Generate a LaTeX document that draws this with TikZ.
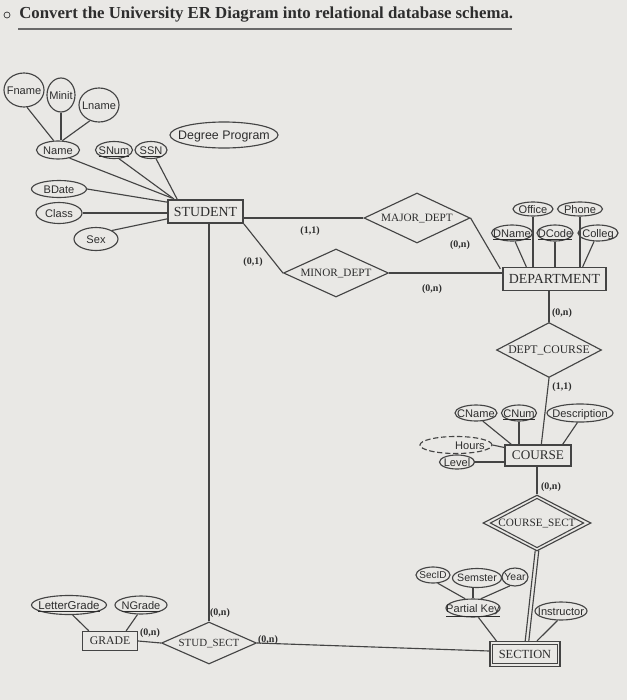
\documentclass[tikz,border=0pt]{standalone}
\usepackage{fontspec}
\setmainfont{Liberation Serif}
\newfontfamily\attrfont{Liberation Sans}
\usetikzlibrary{shapes.geometric,calc}
\definecolor{lc}{RGB}{68,68,68}
\definecolor{tc}{RGB}{45,45,45}
\definecolor{bgc}{RGB}{233,232,229}
\newcommand\mytxt[1]{\smash{\raisebox{-0.7ex}{\makebox[0pt]{#1}}}}
\tikzset{
  sz/.style n args={2}{minimum width=#1*0.75pt, minimum height=#2*0.75pt},
  attr/.style={ellipse, draw=lc, line width=0.85pt, inner sep=0pt, text=tc,
    font=\attrfont\fontsize{8.3}{10}\selectfont},
  ent/.style={rectangle, draw=lc, line width=1pt, inner sep=0pt, text=tc},
  rel/.style={diamond, draw=lc, line width=0.85pt, inner sep=0pt, text=tc,
    font=\fontsize{8.4}{10}\selectfont},
  card/.style={inner sep=0pt, text=tc, font=\fontsize{7.5}{8}\selectfont\bfseries},
  conn/.style={draw=lc, line width=0.85pt},
  inner/.style={draw=lc, line width=0.8pt}
}
\begin{document}
\begin{tikzpicture}[x=0.75pt,y=-0.75pt]
\fill[bgc] (0,0) rectangle (627,700);
\useasboundingbox (0,0) rectangle (627,700);
% title
\node[circle, draw=tc, line width=0.5pt, minimum size=4.5pt, inner sep=0pt] (bul) at (7,15) {};
\node[anchor=west, inner sep=0pt, text=tc, font=\fontsize{12.6}{14}\selectfont\bfseries] (title) at (19,15) {Convert the University ER Diagram into relational database schema.};
\coordinate (ul1) at (18,29);
\coordinate (ul2) at (512,29);
\draw[draw=lc!80, line width=0.8pt] (ul1) -- (ul2);

% STUDENT and attributes
\node[ent, sz={75}{23}, line width=1.3pt, font=\fontsize{10.4}{12}\selectfont] (stu) at (205.5,211.5) {STUDENT};
\node[attr, sz={40}{34}] (fname) at (24,90) {\mytxt{Fname}};
\node[attr, sz={28}{34}] (minit) at (61,95) {\mytxt{Minit}};
\node[attr, sz={40}{34}] (lname) at (99,105) {\mytxt{Lname}};
\node[attr, sz={43}{18}] (name) at (58,150) {\mytxt{Name}};
\node[attr, sz={37}{17}] (snum) at (114,150) {\mytxt{\underline{SNum}}};
\node[attr, sz={32}{17}] (ssn) at (151,150) {\mytxt{\underline{SSN}}};
\node[attr, sz={108}{26}, font=\attrfont\fontsize{9.3}{11}\selectfont] (deg) at (224,135) {\mytxt{Degree Program}};
\node[attr, sz={55}{17}] (bdate) at (59,189) {\mytxt{BDate}};
\node[attr, sz={46}{21}] (class) at (59,213) {\mytxt{Class}};
\node[attr, sz={44}{23}] (sex) at (96,239) {\mytxt{Sex}};

\draw[conn] (fname.-80) -- (name.115);
\draw[conn] (minit.south) -- (minit.south |- name.north);
\draw[conn] (lname.-120) -- (name.65);
\draw[conn] (name.-35) -- ($(stu.north west)+(5,-1)$);
\draw[conn] (snum.-60) -- ($(stu.north west)+(7,0)$);
\draw[conn] (ssn.-60) -- ($(stu.north west)+(10,0)$);
\draw[conn] ($(stu.north)+(7.5,0)$) -- ($(stu.north)+(7.5,0)$ |- deg.south);
\draw[conn] (bdate.east) -- ($(stu.north west)+(0,3)$);
\draw[conn] (class.east) -- (class.east -| stu.west);
\draw[conn] (sex.north east) -- ($(stu.south west)+(0,-5)$);

% relationships with DEPARTMENT
\node[rel, sz={106}{50}] (major) at (417,218) {\mytxt{MAJOR\_DEPT}};
\node[rel, sz={105}{48}] (minor) at (336,273) {\mytxt{MINOR\_DEPT}};
\node[ent, sz={103}{23}, font=\fontsize{10.4}{12}\selectfont] (dept) at (554.5,279) {DEPARTMENT};
\draw[conn] (major.west) -- (major.west -| stu.east);
\draw[conn] (stu.south east) -- (minor.west);
\draw[conn] (minor.east) -- (minor.east -| dept.west);
\draw[conn] (major.east) -- ($(dept.north west)+(-2,2)$);
\node[card] (c1) at (310,231) {(1,1)};
\node[card] (c2) at (253,262) {(0,1)};
\node[card] (c3) at (460,245) {(0,n)};
\node[card] (c4) at (432,289) {(0,n)};

% DEPARTMENT attributes
\node[attr, sz={40}{14}] (office) at (533,209) {\mytxt{Office}};
\node[attr, sz={45}{14}] (phone) at (580,209) {\mytxt{Phone}};
\node[attr, sz={41}{16}] (dname) at (512,233) {\mytxt{\underline{DName}}};
\node[attr, sz={36}{16}] (dcode) at (555,233) {\mytxt{\underline{DCode}}};
\node[attr, sz={40}{16}] (colleg) at (598,233) {\mytxt{Colleg}};
\draw[conn] (office.south) -- (office.south |- dept.north);
\draw[conn] (phone.south) -- (phone.south |- dept.north);
\draw[conn] (dname.-70) -- ($(dept.north west)+(24,0)$);
\draw[conn] (dcode.south) -- (dcode.south |- dept.north);
\draw[conn] (colleg.-115) -- ($(dept.north east)+(-24,0)$);

% DEPT_COURSE and COURSE
\node[rel, sz={105}{55}, font=\fontsize{8.8}{10}\selectfont] (dc) at (549,350) {\mytxt{DEPT\_COURSE}};
\node[ent, sz={66}{21}, font=\fontsize{9.9}{11}\selectfont] (course) at (538,455.5) {COURSE};
\draw[conn] (dc.north) -- (dc.north |- dept.south);
\draw[conn] (dc.south) -- ($(course.north west)+(37,0)$);
\node[card] (c5) at (562,313) {(0,n)};
\node[card] (c6) at (562,387) {(1,1)};

\node[attr, sz={42}{16}] (cname) at (476,413) {\mytxt{CName}};
\node[attr, sz={35}{16}] (cnum) at (519,413) {\mytxt{\underline{CNum}}};
\node[attr, sz={66}{18}] (desc) at (580,413) {\mytxt{Description}};
\node[attr, sz={72}{17}, dashed, dash pattern=on 4pt off 2pt] (hours) at (456,445) {\mytxt{\kern 21pt Hours}};
\node[attr, sz={35}{14}] (level) at (457,462) {\mytxt{Level}};
\draw[conn] (cname.-50) -- ($(course.north west)+(7,0)$);
\draw[conn] (cnum.south) -- (cnum.south |- course.north);
\draw[conn] (desc.-105) -- ($(course.north east)+(-9,0)$);
\draw[conn] (hours.east) -- ($(course.west)+(0,-8)$);
\draw[conn] (level.east) -- (level.east -| course.west);

% COURSE_SECT (weak relationship) and SECTION (weak entity)
\node[rel, sz={108}{56}] (cs) at (537,523) {\mytxt{COURSE\_SECT}};
\draw[inner] ($(cs.north)+(0,4)$) -- ($(cs.east)+(-8,0)$) -- ($(cs.south)+(0,-4)$) -- ($(cs.west)+(8,0)$) -- cycle;
\node[ent, sz={70}{25}, line width=0.9pt, font=\fontsize{9.3}{11}\selectfont] (section) at (525,654) {SECTION};
\draw[inner] ($(section.north west)+(3.5,3.5)$) rectangle ($(section.south east)+(-3.5,-3.5)$);
\draw[conn] (cs.north) -- (cs.north |- course.south);
\draw[conn] ($(cs.south)+(-1.8,-1)$) -- ($(section.north)+(0.2,0)$);
\draw[conn] ($(cs.south)+(1.8,-1)$) -- ($(section.north)+(3.8,0)$);
\node[card] (c7) at (551,487) {(0,n)};

\node[attr, sz={34}{16}, font=\attrfont\fontsize{7.5}{9}\selectfont] (secid) at (433,575) {\mytxt{SecID}};
\node[attr, sz={49}{19}, font=\attrfont\fontsize{8}{9}\selectfont] (sem) at (477,578) {\mytxt{Semster}};
\node[attr, sz={26}{18}, font=\attrfont\fontsize{7.8}{9}\selectfont] (year) at (515,577) {\mytxt{Year}};
\node[attr, sz={54}{18}] (pk) at (473,608) {\mytxt{\underline{Partial Key}}};
\node[attr, sz={52}{18}] (instr) at (561,611) {\mytxt{Instructor}};
\draw[conn] (secid.-60) -- (pk.130);
\draw[conn] (pk.north) -- (pk.north |- sem.south);
\draw[conn] (year.-120) -- (pk.50);
\draw[conn] (pk.-60) -- ($(section.north west)+(7,0)$);
\draw[conn] (instr.-110) -- ($(section.north)+(12,0)$);

% STUD_SECT and GRADE
\node[rel, sz={95}{42}, font=\fontsize{8.2}{10}\selectfont] (ss) at (209,643) {\mytxt{STUD\_SECT}};
\node[ent, sz={55}{19}, font=\fontsize{8.8}{10}\selectfont] (grade) at (110,641) {GRADE};
\draw[conn] (ss.north) -- (ss.north |- stu.south);
\draw[conn] (ss.east) -- ($(section.west)+(0,-3)$);
\draw[conn] (grade.east) -- (ss.west);
\node[card] (c8) at (220,613) {(0,n)};
\node[card] (c9) at (150,633) {(0,n)};
\node[card] (c10) at (268,640) {(0,n)};

\node[attr, sz={75}{19}, font=\attrfont\fontsize{8.6}{10}\selectfont] (lg) at (69,605) {\mytxt{\underline{LetterGrade}}};
\node[attr, sz={52}{18}] (ng) at (141,605) {\mytxt{\underline{NGrade}}};
\draw[conn] (lg.-70) -- ($(grade.north west)+(7,0)$);
\draw[conn] (ng.-110) -- ($(grade.north east)+(-12,0)$);
\end{tikzpicture}
\end{document}
